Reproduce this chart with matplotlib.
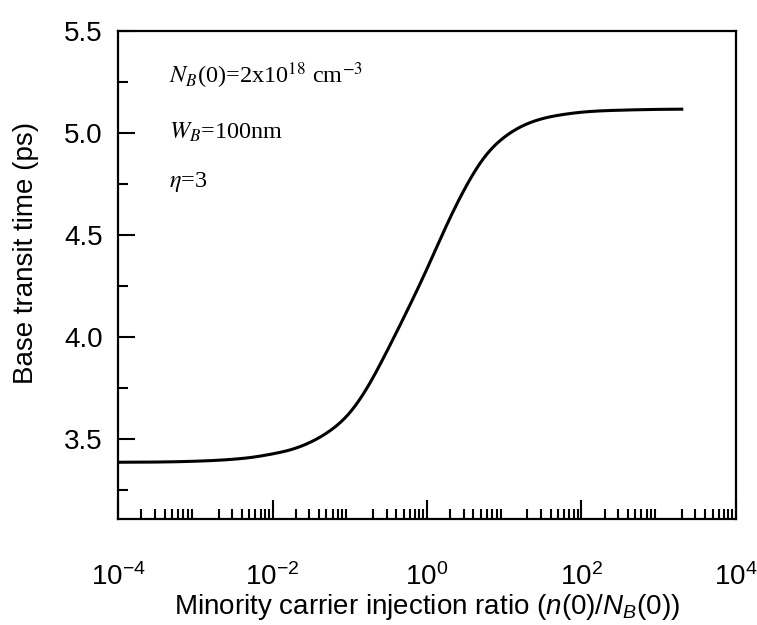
import numpy as np
import matplotlib
matplotlib.use("Agg")
import matplotlib.pyplot as plt
from matplotlib.ticker import LogLocator, FixedLocator, FormatStrFormatter

plt.rcParams['font.family'] = ['Liberation Sans', 'DejaVu Sans']
plt.rcParams['mathtext.fontset'] = 'custom'
plt.rcParams['mathtext.rm'] = 'Liberation Sans'
plt.rcParams['mathtext.it'] = 'Liberation Sans:italic'
plt.rcParams['mathtext.sf'] = 'Liberation Sans'

# Injection ratio n(0)/N_B(0) (as log10) and base transit time (ps)
log_injection = [-4.00, -3.50, -3.00, -2.50, -2.25, -2.00, -1.75, -1.50, -1.25,
                 -1.00, -0.75, -0.50, -0.25, 0.00, 0.25, 0.50, 0.75, 1.00,
                 1.25, 1.50, 1.75, 2.00, 2.50, 3.00, 3.30]
transit_time = [3.387, 3.388, 3.392, 3.402, 3.412, 3.428, 3.450, 3.487, 3.543,
                3.630, 3.768, 3.945, 4.135, 4.335, 4.545, 4.735, 4.885, 4.980,
                5.038, 5.072, 5.091, 5.103, 5.113, 5.117, 5.118]

y_ticks = [3.5, 4.0, 4.5, 5.0, 5.5]
y_minor = [3.25, 3.75, 4.25, 4.75, 5.25]
x_ticks = [1e-4, 1e-2, 1e0, 1e2, 1e4]


def natural_spline(x, y, xn):
    """Natural cubic spline through (x, y), evaluated at xn."""
    x = np.asarray(x, float)
    y = np.asarray(y, float)
    n = len(x)
    h = np.diff(x)
    A = np.zeros((n, n))
    r = np.zeros(n)
    A[0, 0] = A[-1, -1] = 1.0
    for i in range(1, n - 1):
        A[i, i - 1] = h[i - 1]
        A[i, i] = 2 * (h[i - 1] + h[i])
        A[i, i + 1] = h[i]
        r[i] = 6 * ((y[i + 1] - y[i]) / h[i] - (y[i] - y[i - 1]) / h[i - 1])
    M = np.linalg.solve(A, r)
    idx = np.clip(np.searchsorted(x, xn) - 1, 0, n - 2)
    x0, x1 = x[idx], x[idx + 1]
    hi = h[idx]
    a = (x1 - xn) / hi
    b = (xn - x0) / hi
    return (a * y[idx] + b * y[idx + 1]
            + ((a**3 - a) * M[idx] + (b**3 - b) * M[idx + 1]) * hi**2 / 6)


lx_fine = np.linspace(log_injection[0], log_injection[-1], 800)
ty_fine = natural_spline(log_injection, transit_time, lx_fine)

fig = plt.figure(figsize=(7.57, 6.25), dpi=100)
ax = fig.add_axes([0.156, 0.170, 0.816, 0.780])

ax.plot(10 ** lx_fine, ty_fine, color='black', lw=2.2)

ax.set_xscale('log')
ax.set_xlim(1e-4, 1e4)
ax.set_ylim(3.11, 5.5)

ax.xaxis.set_major_locator(FixedLocator(x_ticks))
ax.xaxis.set_minor_locator(LogLocator(base=10, subs=np.arange(2, 10), numticks=20))
ax.yaxis.set_major_locator(FixedLocator(y_ticks))
ax.yaxis.set_minor_locator(FixedLocator(y_minor))
ax.yaxis.set_major_formatter(FormatStrFormatter('%.1f'))

ax.tick_params(which='both', direction='in', top=False, right=False,
               labelsize=20, width=1.5, color='black')
ax.tick_params(axis='y', which='major', length=12, pad=11)
ax.tick_params(axis='y', which='minor', length=7)
ax.tick_params(axis='x', which='major', length=14, pad=32)
ax.tick_params(axis='x', which='minor', length=7)

for s in ax.spines.values():
    s.set_linewidth(1.6)

ax.set_ylabel('Base transit time (ps)', fontsize=20)
ax.yaxis.set_label_coords(-0.128, 0.545)
ax.set_xlabel(r'Minority carrier injection ratio ($n$(0)/$N_B$(0))', fontsize=20,
              labelpad=1)

ann_kw = dict(transform=ax.transAxes, fontsize=17.5, family='Liberation Serif',
              math_fontfamily='stix', ha='left', va='baseline')
ax.text(0.083, 0.893, r'$N_B$(0)=2x10$^{18}$ cm$^{-3}$', **ann_kw)
ax.text(0.083, 0.779, r'$W_B$=100nm', **ann_kw)
ax.text(0.083, 0.681, r'$\eta$=3', **ann_kw)

fig.savefig('out.png', dpi=100)
